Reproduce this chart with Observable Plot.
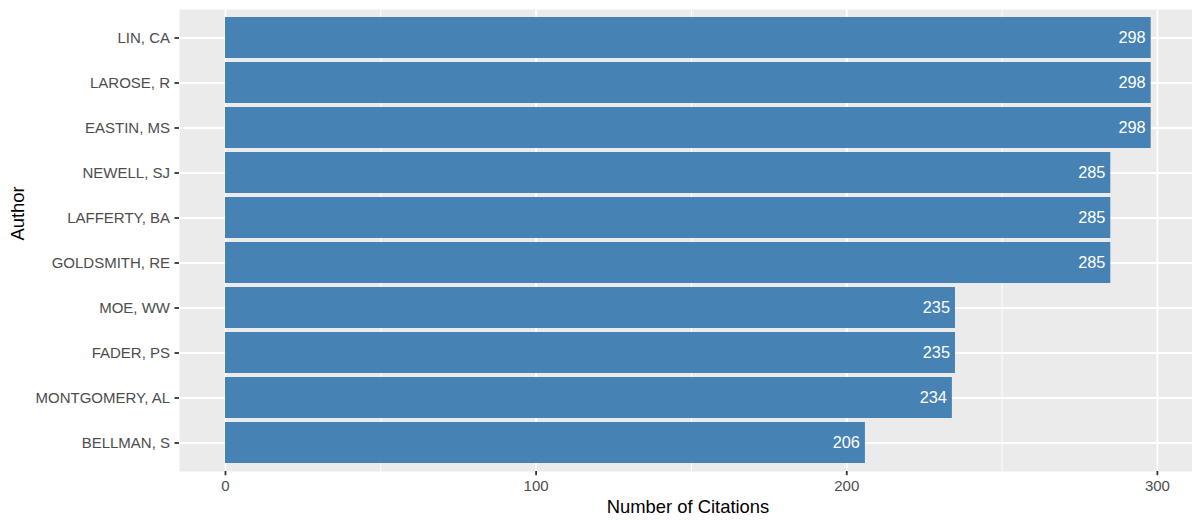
<!DOCTYPE html>
<html><head><meta charset="utf-8">
<script src="https://cdn.jsdelivr.net/npm/d3@7"></script>
<script src="https://cdn.jsdelivr.net/npm/@observablehq/plot@0.6"></script>
<style>body{margin:0;background:#fff}</style>
</head><body><div id="chart"></div>
<script>
const authors = ["LIN, CA","LAROSE, R","EASTIN, MS","NEWELL, SJ","LAFFERTY, BA","GOLDSMITH, RE","MOE, WW","FADER, PS","MONTGOMERY, AL","BELLMAN, S"];
const citations = [298,298,298,285,285,285,235,235,234,206];
const majorTicks = [0,100,200,300];
const minorTicks = [50,150,250];
const xTitle = "Number of Citations";
const yTitle = "Author";

const data = authors.map((a,i)=>({author:a, citations:citations[i]}));

const chart = Plot.plot({
  width: 1192, height: 520,
  marginLeft: 179, marginRight: 0, marginTop: 9, marginBottom: 49,
  style: {fontFamily: "'Liberation Sans', Arial, Helvetica, sans-serif", background: "white"},
  x: {domain: [-14.8, 311.3]},
  y: {domain: authors, paddingInner: 0.1, paddingOuter: 0.15},
  marks: [
    Plot.frame({fill: "#EBEBEB", stroke: null}),
    Plot.ruleX(minorTicks, {stroke: "white", strokeWidth: 0.9}),
    Plot.ruleX(majorTicks, {stroke: "white", strokeWidth: 1.8}),
    Plot.gridY({stroke: "white", strokeOpacity: 1, strokeWidth: 1.8}),
    Plot.barX(data, {x: "citations", y: "author", fill: "#4682B4"}),
    Plot.text(data, {x: "citations", y: "author", text: d => String(d.citations), textAnchor: "end", dx: -5.5, fill: "white", fontSize: 16.3}),
    Plot.axisX({ticks: majorTicks, tickSize: 4.2, tickPadding: 4.5, fontSize: 15, color: "#4d4d4d", stroke: "#333333", strokeWidth: 1.8, label: null}),
    Plot.axisY({tickSize: 4.5, tickPadding: 5, fontSize: 15, color: "#4d4d4d", stroke: "#333333", strokeWidth: 1.8, label: null}),
    Plot.text([xTitle], {frameAnchor: "bottom", dy: 41, dx: 2, fontSize: 18.4, fill: "black"}),
    Plot.text([yTitle], {frameAnchor: "left", rotate: -90, dx: -161, fontSize: 18.4, fill: "black"})
  ]
});
document.getElementById("chart").appendChild(chart);
</script>
</body></html>
